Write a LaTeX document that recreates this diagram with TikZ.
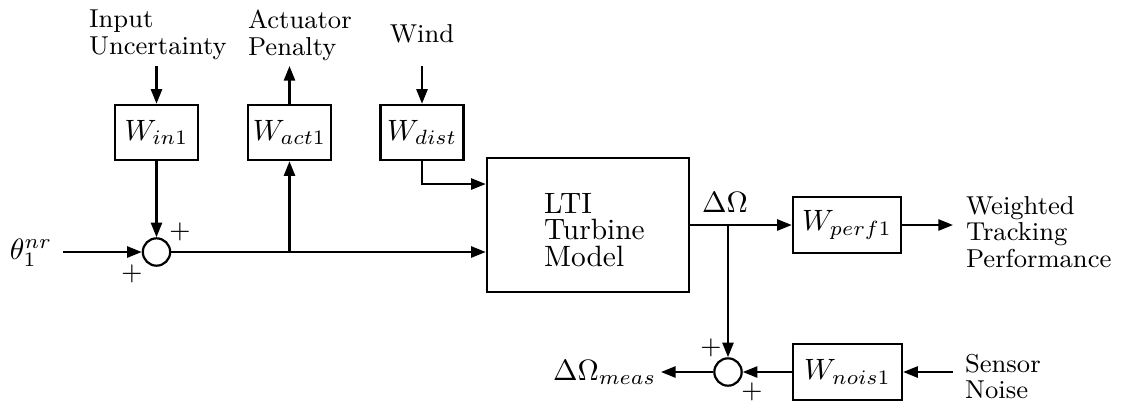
\documentclass[tikz,border=0pt]{standalone}
\usetikzlibrary{arrows.meta,calc}
\begin{document}
\begin{tikzpicture}[x=0.34pt,y=-0.34pt,
  line width=0.75pt,
  arr/.style={-{Triangle[length=5pt,width=3.8pt]}},
  blk/.style={draw, rectangle, line width=0.85pt, inner sep=0, minimum width=28.2pt, minimum height=18.7pt, font=\fontsize{10}{12}\selectfont},
  sumj/.style={draw, circle, minimum size=9.3pt, inner sep=0},
  lbl/.style={inner sep=0, align=left, font=\fontsize{8.8}{9}\selectfont},
  sgn/.style={inner sep=0, font=\fontsize{9}{9}\selectfont}]
\useasboundingbox (0,0) rectangle (1125,403);
% blocks
\node[sumj] (s1) at (156.5,252) {};
\node[blk] (win) at (156.5,132.5) {$W_{in1}$};
\node[blk] (wact) at (289.5,132.5) {$W_{act1}$};
\node[blk] (wdist) at (422,132.5) {$W_{dist}$};
\node[draw, line width=0.85pt, minimum width=68.7pt, minimum height=45.6pt, inner sep=0] (lti) at (588,225) {};
\node[lbl, font=\fontsize{10}{9}\selectfont, anchor=north west] (ltitxt) at (543,192) {LTI\\Turbine\\Model};
\node[blk, minimum width=36.7pt, minimum height=19pt] (wperf) at (847,225) {$W_{perf1}$};
\node[blk, minimum width=37pt, minimum height=19pt] (wnois) at (847.5,372) {$W_{nois1}$};
\node[sumj] (s2) at (728,372) {};
% labels
\node[inner sep=3.33pt] (theta) at (31,253) {$\theta_1^{nr}$};
\node[lbl, anchor=north west] (inlab) at (88,9) {Input\\Uncertainty};
\node[lbl, anchor=north west] (actlab) at (247,9) {Actuator\\Penalty};
\node[lbl, anchor=north] (windlab) at (422,23) {Wind};
\node[inner sep=0, anchor=base] (dom) at (725,212) {$\Delta\Omega$};
\node[lbl, anchor=north west] (perflab) at (965,195) {Weighted\\Tracking\\Performance};
\node[lbl, anchor=north west] (senslab) at (964,353) {Sensor\\Noise};
\node[inner sep=0, anchor=base west] (meas) at (552,380) {$\Delta\Omega_{meas}$};
% signs
\node[sgn] (p1a) at (180,232) {$+$};
\node[sgn] (p1b) at (132,274) {$+$};
\node[sgn] (p2a) at (711,348) {$+$};
\node[sgn] (p2b) at (752,392) {$+$};
% free ends and branch points
\coordinate (inTop) at (156.5,66);
\coordinate (actTop) at (289.5,66);
\coordinate (windTop) at (422,66);
\coordinate (br1) at (289.5,252);
\coordinate (br2) at (728,225);
\coordinate (perfOut) at (953,225);
\coordinate (sensIn) at (953,372);
\coordinate (measOut) at (661,372);
% connectors
\draw[arr] (theta.east |- s1.west) -- (s1.west);
\draw[arr] (inTop) -- (win.north);
\draw[arr] (win.south) -- (s1.north);
\draw[arr] (s1.east) -- (s1.east -| lti.west);
\draw[arr] (br1) -- (wact.south);
\draw[arr] (wact.north) -- (actTop);
\draw[arr] (windTop) -- (wdist.north);
\draw[arr] (wdist.south) |- ($(lti.north west)!0.2!(lti.south west)$);
\draw[arr] (lti.east) -- (wperf.west);
\draw[arr] (br2) -- (s2.north);
\draw[arr] (wperf.east) -- (perfOut);
\draw[arr] (sensIn) -- (wnois.east);
\draw[arr] (wnois.west) -- (s2.east);
\draw[arr] (s2.west) -- (measOut);
\end{tikzpicture}
\end{document}
